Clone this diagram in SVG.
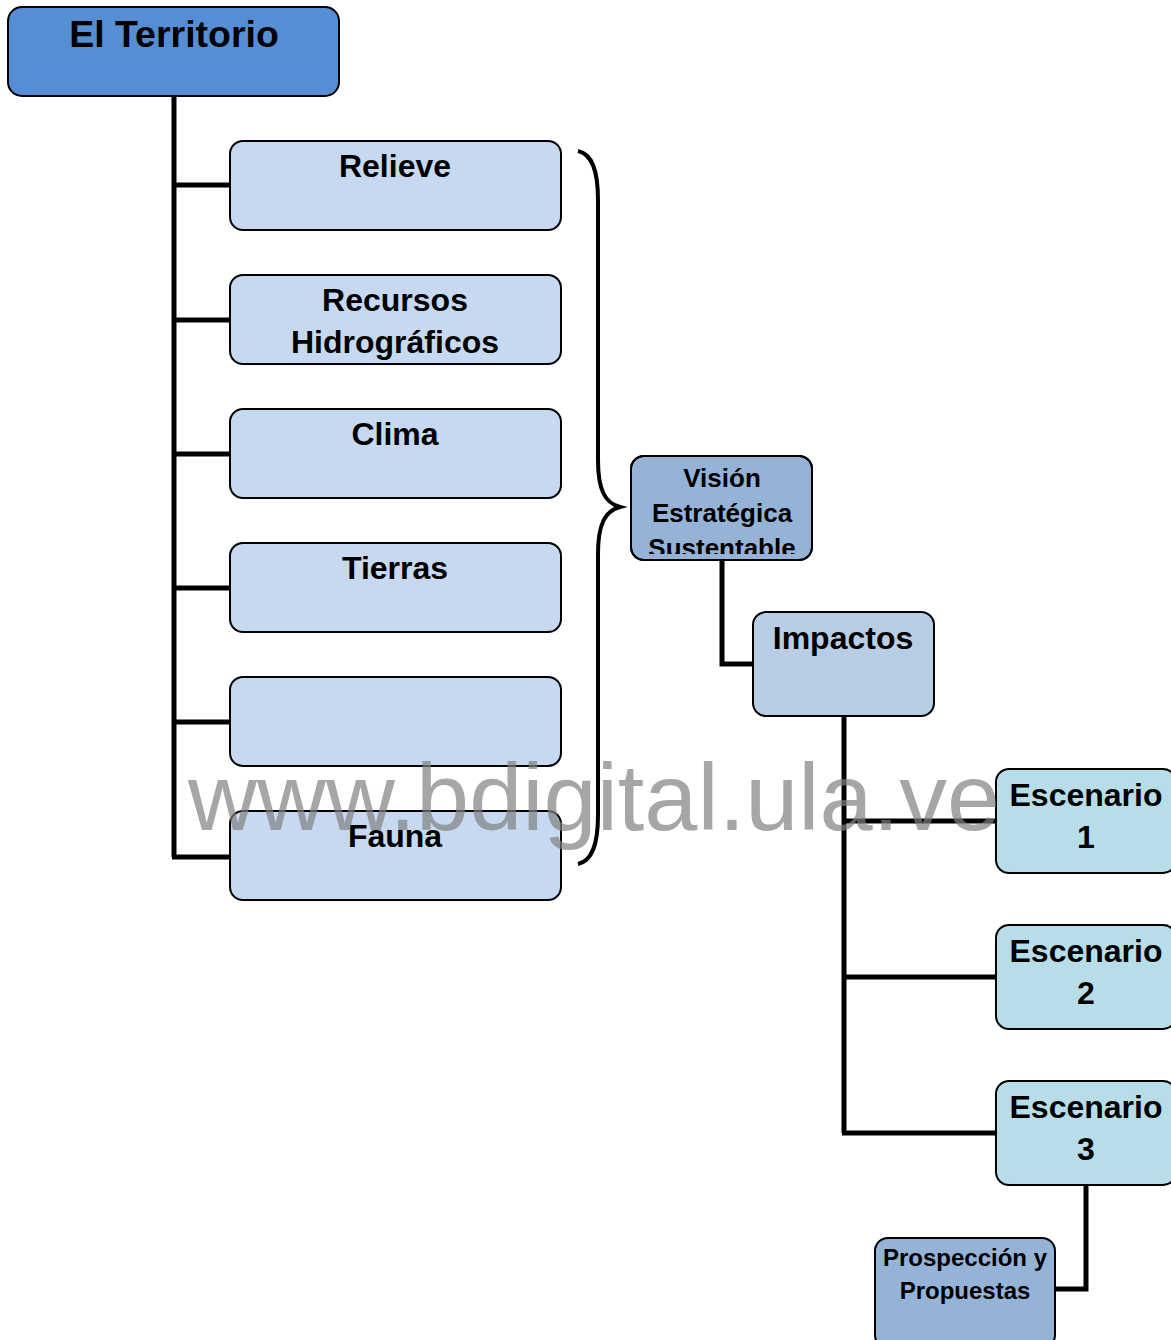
<svg xmlns="http://www.w3.org/2000/svg" width="1171" height="1340" viewBox="0 0 1171 1340">
<style>
.box{stroke:#000;stroke-width:2}
.t{font-family:"Liberation Sans",Arial,sans-serif;font-weight:bold;fill:#000;text-anchor:middle}
.m{font-size:32px}
.conn{fill:none;stroke:#000;stroke-width:5}
</style>
<defs>
<clipPath id="cv"><rect x="632" y="457" width="180" height="97"/></clipPath>
</defs>
<rect width="1171" height="1340" fill="#fff"/>
<g id="connectors">
<path class="conn" d="M174,96 V857 M172,185 H231 M172,320 H231 M172,454 H231 M172,588 H231 M172,722 H231 M172,857 H231"/>
<path class="conn" d="M722,560 V664 H754"/>
<path class="conn" d="M844,716 V1133 M842,821 H997 M842,977 H997 M842,1133 H997"/>
<path class="conn" d="M1086,1185 V1289 H1054"/>
<path fill="none" stroke="#000" stroke-width="4" d="M578,151 C592,154 598,170 598,200 V460 C598,490 605,503 620,507 C605,511 598,524 598,554 V815 C598,845 592,861 578,864"/>
</g>
<g id="n-territorio"><rect class="box" x="8" y="7" width="331" height="89" rx="14" fill="#558ed5"/><text class="t" x="174" y="47" font-size="37.5">El Territorio</text></g>
<g id="n-relieve"><rect class="box" x="230" y="141" width="331" height="89" rx="13" fill="#c6d9f1"/><text class="t m" x="395" y="177">Relieve</text></g>
<g id="n-recursos"><rect class="box" x="230" y="275" width="331" height="89" rx="13" fill="#c6d9f1"/><text class="t m" x="395" y="311">Recursos</text><text class="t m" x="395" y="353">Hidrográficos</text></g>
<g id="n-clima"><rect class="box" x="230" y="409" width="331" height="89" rx="13" fill="#c6d9f1"/><text class="t m" x="395" y="445">Clima</text></g>
<g id="n-tierras"><rect class="box" x="230" y="543" width="331" height="89" rx="13" fill="#c6d9f1"/><text class="t m" x="395" y="579">Tierras</text></g>
<g id="n-empty"><rect class="box" x="230" y="677" width="331" height="89" rx="13" fill="#c6d9f1"/></g>
<g id="n-fauna"><rect class="box" x="230" y="811" width="331" height="89" rx="13" fill="#c6d9f1"/><text class="t m" x="395" y="847">Fauna</text></g>
<g id="n-vision"><rect class="box" x="631" y="456" width="181" height="104" rx="13" fill="#95b3d7"/><g clip-path="url(#cv)"><text class="t" x="722" y="487" font-size="26">Visión</text><text class="t" x="722" y="522" font-size="26">Estratégica</text><text class="t" x="722" y="557" font-size="26">Sustentable</text></g><rect x="631" y="456" width="181" height="104" rx="13" fill="none" stroke="#000" stroke-width="2"/></g>
<g id="n-impactos"><rect class="box" x="753" y="612" width="181" height="104" rx="13" fill="#b9cde5"/><text class="t m" x="843" y="649">Impactos</text></g>
<g id="n-esc1"><rect class="box" x="996" y="769" width="180" height="104" rx="13" fill="#b7dde8"/><text class="t m" x="1086" y="806">Escenario</text><text class="t m" x="1086" y="848">1</text></g>
<g id="n-esc2"><rect class="box" x="996" y="925" width="180" height="104" rx="13" fill="#b7dde8"/><text class="t m" x="1086" y="962">Escenario</text><text class="t m" x="1086" y="1004">2</text></g>
<g id="n-esc3"><rect class="box" x="996" y="1081" width="180" height="104" rx="13" fill="#b7dde8"/><text class="t m" x="1086" y="1118">Escenario</text><text class="t m" x="1086" y="1160">3</text></g>
<g id="n-prospeccion"><rect class="box" x="875" y="1238" width="180" height="110" rx="13" fill="#95b3d7"/><text class="t" x="965" y="1266" font-size="24">Prospección y</text><text class="t" x="965" y="1299" font-size="24">Propuestas</text></g>
<text x="188" y="830" font-family="Liberation Sans,Arial,sans-serif" font-size="95" fill="#808080" fill-opacity="0.7" textLength="812" lengthAdjust="spacingAndGlyphs">www.bdigital.ula.ve</text>
</svg>
